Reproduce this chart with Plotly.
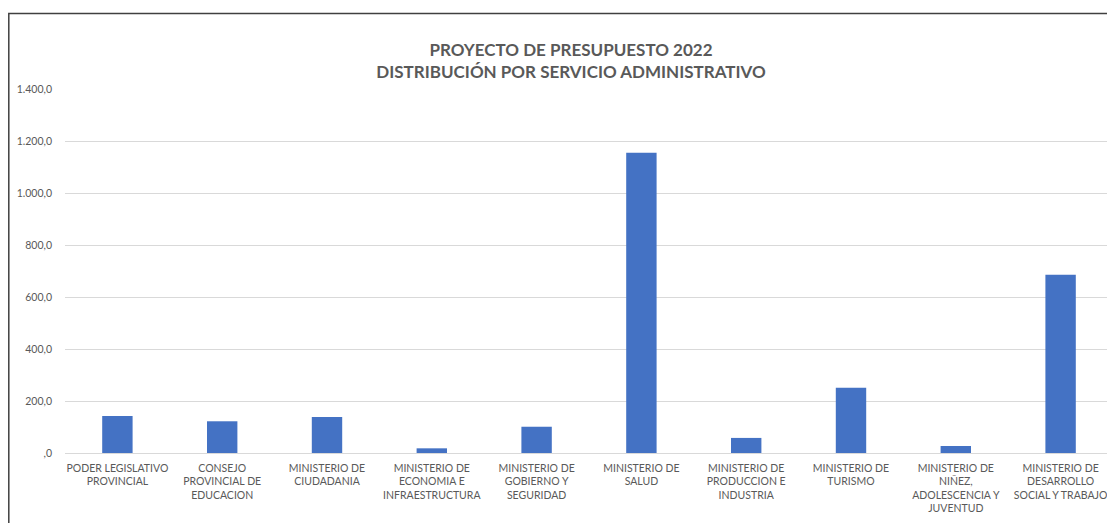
import plotly.graph_objects as go

categories = [
    "PODER LEGISLATIVO<br>PROVINCIAL",
    "CONSEJO<br>PROVINCIAL DE<br>EDUCACION",
    "MINISTERIO DE<br>CIUDADANIA",
    "MINISTERIO DE<br>ECONOMIA E<br>INFRAESTRUCTURA",
    "MINISTERIO DE<br>GOBIERNO Y<br>SEGURIDAD",
    "MINISTERIO DE<br>SALUD",
    "MINISTERIO DE<br>PRODUCCION E<br>INDUSTRIA",
    "MINISTERIO DE<br>TURISMO",
    "MINISTERIO DE<br>NIÑEZ,<br>ADOLESCENCIA Y<br>JUVENTUD",
    "MINISTERIO DE<br>DESARROLLO<br>SOCIAL Y TRABAJO",
]
values = [142, 122, 138, 18, 101, 1155, 58, 251, 27, 686]
ytick_vals = [0, 200, 400, 600, 800, 1000, 1200, 1400]
ytick_text = [",0", "200,0", "400,0", "600,0", "800,0", "1.000,0", "1.200,0", "1.400,0"]

W, H = 1107, 515
L, R, T, B = 57, 2, 80.5, 70

fig = go.Figure(go.Bar(x=categories, y=values, marker=dict(color="#4472C4", line=dict(width=0)),
                       hoverinfo="x+y"))

pw = W - L - R
ph = H - T - B
x0 = (0.8 - L) / pw
y1 = (H - B - 5) / ph

fig.update_layout(
    width=W, height=H,
    margin=dict(l=L, r=R, t=T, b=B, pad=0),
    paper_bgcolor="white", plot_bgcolor="white",
    bargap=0.71,
    showlegend=False,
    font=dict(family="Lato, Carlito, sans-serif", color="#595959", size=10.5),
    title=dict(text="<b>PROYECTO DE PRESUPUESTO 2022<br>DISTRIBUCIÓN POR SERVICIO ADMINISTRATIVO</b>",
               x=563 / W, xanchor="center", y=1 - 47.5 / H, yanchor="middle",
               font=dict(family="Lato, Carlito, sans-serif", size=17, color="#595959")),
    xaxis=dict(showgrid=False, showline=False, ticks="", tickangle=0, ticklabelstandoff=7,
               tickfont=dict(size=10.5, color="#595959")),
    yaxis=dict(range=[0, 1400], tickvals=ytick_vals, ticktext=ytick_text,
               showgrid=True, gridcolor="#D9D9D9", gridwidth=1,
               zeroline=True, zerolinecolor="#D9D9D9", zerolinewidth=1,
               showline=False, ticks="", ticklabelstandoff=12,
               tickfont=dict(size=10.5, color="#595959")),
    shapes=[dict(type="rect", xref="paper", yref="paper", x0=x0, x1=1.05, y0=-0.3, y1=y1,
                 line=dict(color="#404040", width=1.5), fillcolor="rgba(0,0,0,0)", layer="above")],
)

fig.write_html("out.html")
